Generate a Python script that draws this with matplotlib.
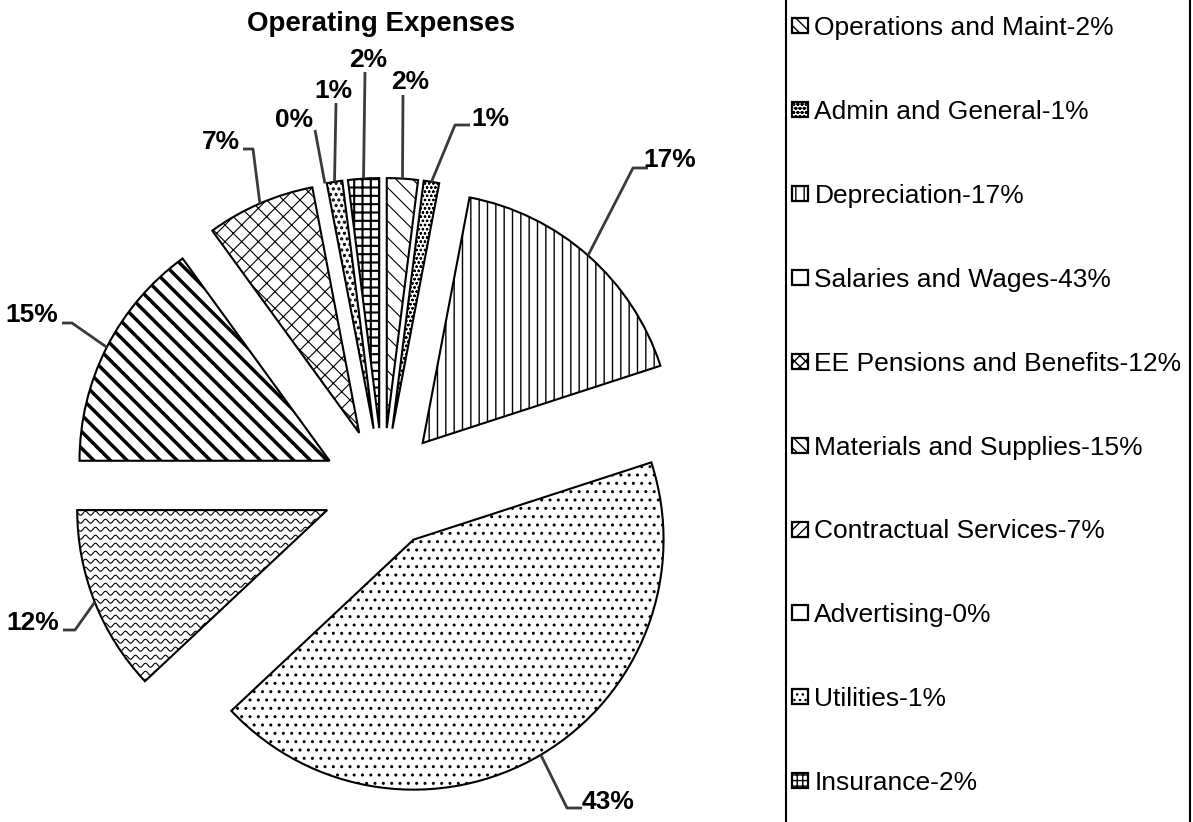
import numpy as np
import matplotlib
matplotlib.use('Agg')
import matplotlib.pyplot as plt
from matplotlib.patches import Patch
from matplotlib.lines import Line2D

# data
categories = ['Operations and Maint', 'Admin and General', 'Depreciation',
              'Salaries and Wages', 'EE Pensions and Benefits',
              'Materials and Supplies', 'Contractual Services', 'Advertising',
              'Utilities', 'Insurance']
shares = [2, 1, 17, 43, 12, 15, 7, 0, 1, 2]

# styles (black and white hatches)
hatches = ['\\\\', 'oooo', '||', '..', '', '\\\\', 'xx', '', '...', '++']
hatch_lw = [0.8, 0.6, 1.0, 1.0, 1.0, 2.5, 0.8, 1.0, 1.5, 1.5]
legend_hatches = ['\\\\\\', 'oooo', '||', '', 'xxx', '\\\\\\', '///', '', '...', '+++']

# layout, pixels of the 1193x822 picture
W, H = 1193, 822
CX, CY, R = 383, 488, 250
text_px = [(410, 82), (490, 119), (670, 160), (608, 802), (33, 623),
           (32, 315), (221, 142), (294, 120), (333, 91), (368, 60)]
elbow_px = [(403, 95), (455, 125), (633, 168), (567, 808), (75, 630),
            (72, 323), (253, 149), (315, 130), (336, 103), (365, 72)]
stub_px = [(403, 95), (470, 125), (648, 168), (582, 808), (63, 630),
           (62, 323), (243, 149), (315, 130), (336, 103), (365, 72)]


def px2d(p):
    return ((p[0] - CX) / R, (CY - p[1]) / R)


fig = plt.figure(figsize=(W / 100, H / 100), dpi=100)
ax = fig.add_axes([0, 0, 1, 1])
wedges, _ = ax.pie(shares, explode=[0.24] * len(shares), startangle=90,
                   counterclock=False, radius=1,
                   wedgeprops=dict(edgecolor='black', linewidth=1.5,
                                   facecolor='white'))
for w, h, lw, s in zip(wedges, hatches, hatch_lw, shares):
    w.set_hatch(h)
    if hasattr(w, 'set_hatch_linewidth'):
        w.set_hatch_linewidth(lw)
    if s == 0:
        w.set_visible(False)

# wavy lines for the pensions slice
ee = wedges[4]
ext = ee.get_path().get_extents()
xs = np.linspace(ext.x0, ext.x1, 600)
for y0 in np.arange(ext.y0, ext.y1 + 0.03, 0.032):
    ln, = ax.plot(xs, y0 + 0.008 * np.sin(2 * np.pi * xs / 0.04),
                  color='black', lw=0.8)
    ln.set_clip_path(ee)

# labels with leader lines
lab_font = ['Liberation Sans Narrow', 'Liberation Sans', 'DejaVu Sans']
for w, s, t, e, st in zip(wedges, shares, text_px, elbow_px, stub_px):
    mid = np.deg2rad((w.theta1 + w.theta2) / 2)
    p = (w.center[0] + w.r * np.cos(mid), w.center[1] + w.r * np.sin(mid))
    e, st = px2d(e), px2d(st)
    ax.plot([p[0], e[0], st[0]], [p[1], e[1], st[1]], color='#3a3a3a',
            lw=2, solid_capstyle='butt', zorder=3)
    tx, ty = px2d(t)
    ax.text(tx, ty, '%d%%' % s, ha='center', va='center', fontsize=19,
            fontweight='bold', family=lab_font)

ax.set_xlim(-CX / R, (W - CX) / R)
ax.set_ylim(-(H - CY) / R, CY / R)
ax.set_aspect('auto')
ax.axis('off')

fig.text(381 / W, 1 - 24 / H, 'Operating Expenses', ha='center', va='center',
         fontsize=20, fontweight='bold', family=['Liberation Sans', 'DejaVu Sans'])

# legend
handles = [Patch(facecolor='white', edgecolor='black', hatch=h, lw=1.6)
           for h in legend_hatches]
labels = ['%s-%d%%' % (c, s) for c, s in zip(categories, shares)]
fig.legend(handles, labels, loc='upper left', bbox_to_anchor=(792 / W, 1 - 16 / H),
           frameon=False, prop={'family': ['Liberation Sans', 'DejaVu Sans'], 'size': 19},
           labelspacing=2.27, handlelength=0.6, handleheight=0.5,
           handletextpad=0.25, borderpad=0, borderaxespad=0)
for xline in (786, 1190):
    fig.add_artist(Line2D([xline / W] * 2, [0, 1], transform=fig.transFigure,
                          color='black', lw=1.5))

fig.savefig('out.png', dpi=100)
